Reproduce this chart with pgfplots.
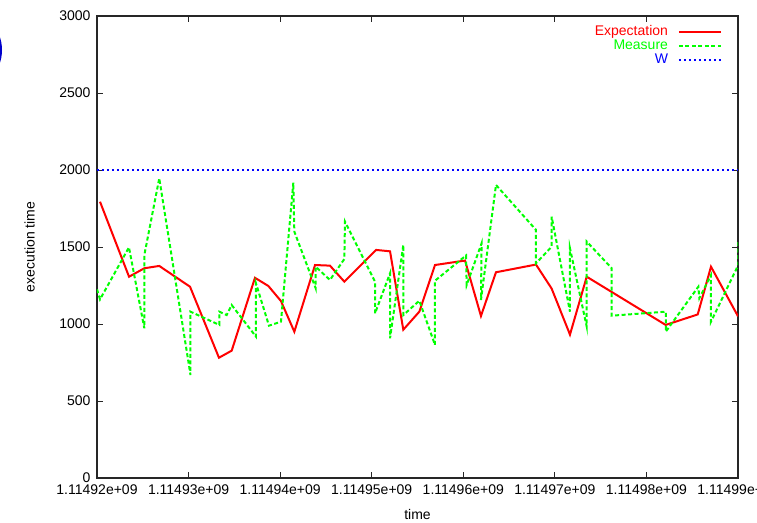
\documentclass[border=0pt]{standalone}
\usepackage{pgfplots}
\pgfplotsset{compat=1.18}
\usepackage{fontspec}
\setmainfont{Liberation Sans}

\definecolor{gpred}{rgb}{1,0,0}
\definecolor{gpgreen}{rgb}{0,1,0}
\definecolor{gpblue}{rgb}{0,0,1}

% x in units of 1e4 s after 1.11492e+09
\pgfplotstableread{
x y
0.033 1794
0.350 1307
0.517 1362
0.680 1377
1.016 1242
1.332 781
1.471 827
1.725 1300
1.871 1247
2.009 1149
2.155 950
2.381 1383
2.544 1379
2.701 1275
3.047 1481
3.200 1472
3.345 963
3.520 1080
3.691 1383
4.019 1412
4.193 1052
4.357 1336
4.794 1386
4.965 1230
5.165 931
5.348 1307
6.210 994
6.560 1062
6.705 1372
7.000 1050
}\expectation

\pgfplotstableread{
x y
0.000 1225
0.033 1160
0.349 1498
0.517 972
0.517 1448
0.680 1946
1.021 669
1.021 1080
1.336 994
1.336 1080
1.416 1058
1.471 1123
1.736 918
1.736 1264
1.878 989
2.009 1015
2.144 1918
2.155 1600
2.388 1232
2.388 1372
2.544 1286
2.701 1422
2.708 1665
3.036 1275
3.036 1069
3.200 1329
3.200 907
3.345 1513
3.345 1058
3.520 1151
3.691 864
3.691 1281
4.030 1445
4.037 1253
4.200 1524
4.193 1156
4.357 1903
4.794 1611
4.794 1394
4.965 1502
4.965 1697
5.165 1080
5.165 1492
5.348 983
5.348 1535
5.621 1362
5.621 1054
6.211 1080
6.211 950
6.567 1242
6.578 1167
6.705 1318
6.705 1015
7.003 1383
7.003 1535
}\measure

\begin{document}
\begin{tikzpicture}[font=\fontsize{14}{16}\selectfont]
\path[use as bounding box] (-97pt,-44pt) rectangle (660pt,478pt);
\clip (-97pt,-44pt) rectangle (660pt,478pt);
\draw[gpblue!80!black, line width=3pt] (-136.5pt,428pt) circle[radius=40pt];
\begin{axis}[
  at={(0pt,0pt)}, anchor=south west,
  scale only axis, width=641pt, height=462pt,
  xmin=0, xmax=7, ymin=0, ymax=3000,
  xtick={0,1,2,3,4,5,6,7},
  xticklabels={1.11492e+09,1.11493e+09,1.11494e+09,1.11495e+09,1.11496e+09,1.11497e+09,1.11498e+09,1.11499e+09},
  ytick={0,500,1000,1500,2000,2500,3000},
  /pgf/number format/assume math mode=true,
  /pgf/number format/1000 sep={},
  tick align=inside, major tick length=6pt,
  axis line style={black!85, line width=1.2pt},
  every tick/.style={black!85, line width=0.9pt},
  xticklabel style={yshift=-3pt},
  yticklabel style={xshift=-3pt},
  xlabel={time}, ylabel={execution time},
  xlabel style={at={(axis description cs:0.5,-0.08)}, anchor=center},
  ylabel style={at={(axis description cs:-0.105,0.5)}, anchor=center, rotate=0},
  legend style={at={(rel axis cs:0.98,0.984)}, anchor=north east, draw=none, fill=none,
    row sep=1pt, nodes={inner sep=0pt, text height=10pt, text depth=3pt},
    /tikz/every odd column/.append style={column sep=10pt}},
  legend cell align=right, legend plot pos=right,
  legend image code/.code={\draw[#1] (0pt,0pt) -- (42pt,0pt);},
]
\addplot[gpred, line width=2pt] table {\expectation};
\addlegendentry{\textcolor{gpred}{Expectation}}
\addplot[gpgreen, line width=2pt, dash pattern=on 4pt off 2.5pt] table {\measure};
\addlegendentry{\textcolor{gpgreen}{Measure}}
\addplot[gpblue, line width=2pt, dash pattern=on 2pt off 3pt] coordinates {(0,2000) (7,2000)};
\addlegendentry{\textcolor{gpblue}{W}}
\end{axis}
\end{tikzpicture}
\end{document}
